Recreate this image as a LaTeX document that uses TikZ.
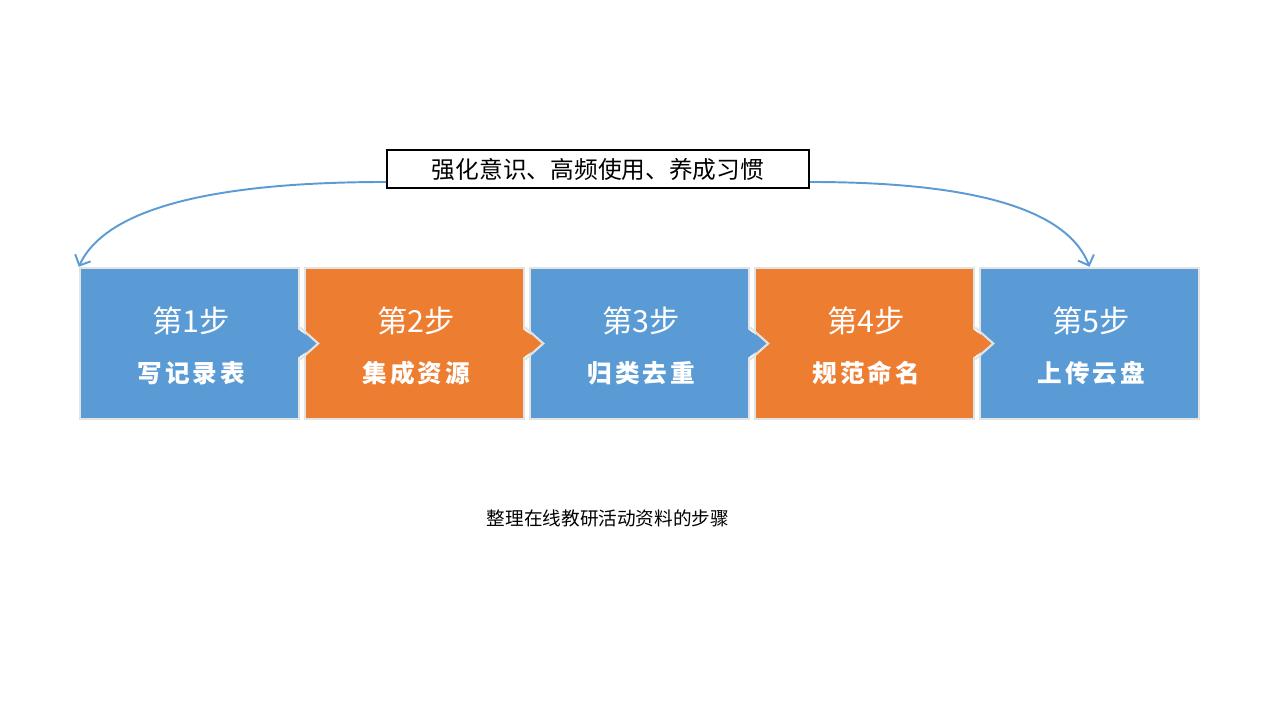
\documentclass[tikz,border=0pt]{standalone}
\usepackage{fontspec}
\usepackage{tikz}
\usetikzlibrary{positioning,arrows.meta,calc}
\setmainfont{Noto Sans CJK SC}
\definecolor{stepblue}{HTML}{5B9BD5}
\definecolor{steporange}{HTML}{ED7D31}
\definecolor{stepedge}{HTML}{E3E3E3}
\definecolor{loopblue}{HTML}{5B9BD5}

\tikzset{
  stepbox/.style={draw=stepedge,line width=1.4pt,minimum width=4.38cm,minimum height=3.02cm,inner sep=0pt},
  steptitle/.style={text=white,font=\fontsize{17.3}{19}\selectfont},
  steptask/.style={text=white,font=\fontsize{14}{16}\selectfont\bfseries\addfontfeatures{LetterSpace=12}},
  habitbox/.style={draw=black,line width=1.1pt,fill=white,minimum width=8.44cm,minimum height=0.76cm,inner sep=0pt,font=\fontsize{13.5}{15}\selectfont},
  looparrow/.style={draw=loopblue,line width=1.1pt,-{Straight Barb[length=1.7mm,width=3.4mm]}}
}

\begin{document}
\begin{tikzpicture}
\useasboundingbox (0,0) rectangle (25.6,14.4);
% step boxes
\foreach \i/\c/\t in {1/stepblue/写记录表,2/steporange/集成资源,3/stepblue/归类去重,4/steporange/规范命名,5/stepblue/上传云盘}{
  \node[stepbox,fill=\c] (b\i) at ({3.79+4.5*(\i-1)},7.53) {};
  \node[steptitle] (n\i) at ($(b\i.center)+(0.03,0.45)$) {第{\i}步};
  \node[steptask] (t\i) at ($(b\i.center)+(0.04,-0.59)$) {\t};
}
% pointers between boxes
\foreach \i/\c in {1/stepblue,2/steporange,3/stepblue,4/steporange}{
  \fill[\c] ($(b\i.east)+(-0.1,0.32)$) -- ($(b\i.east)+(0.36,0)$) -- ($(b\i.east)+(-0.1,-0.32)$) -- cycle;
  \draw[stepedge,line width=1.2pt] ($(b\i.east)+(0,0.32)$) -- ($(b\i.east)+(0.36,0)$) -- ($(b\i.east)+(0,-0.32)$);
}
% loop
\node[habitbox] (habit) at (11.96,11.02) {强化意识、高频使用、养成习惯};
\coordinate (hl) at ($(habit.west)+(0,-0.26)$);
\coordinate (hr) at ($(habit.east)+(0,-0.26)$);
\draw[looparrow] (hl) .. controls +(-3.0,0) and +(0.6,1.3) .. (b1.north west);
\draw[looparrow] (hr) .. controls +(2.8,0) and +(-0.5,1.3) .. (b5.north);
\node[font=\fontsize{10.6}{12}\selectfont] (caption) at (12.16,4.04) {整理在线教研活动资料的步骤};
\end{tikzpicture}
\end{document}
